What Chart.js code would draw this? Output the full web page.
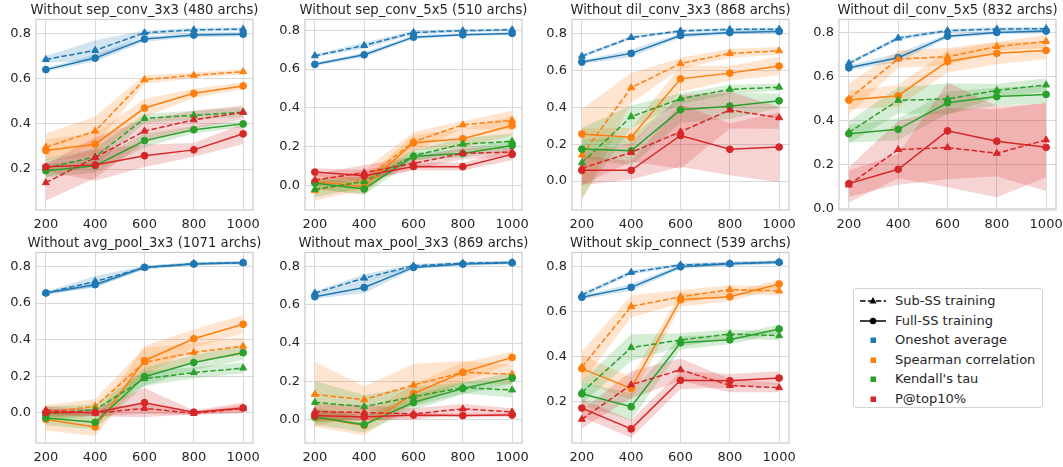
<!DOCTYPE html>
<html>
<head>
<meta charset="utf-8">
<script src="https://cdn.jsdelivr.net/npm/chart.js@4.4.1/dist/chart.umd.min.js"></script>
<style>
  html, body { margin: 0; padding: 0; background: #ffffff; }
  body { width: 1063px; height: 467px; position: relative; overflow: hidden; font-family: "DejaVu Sans", sans-serif; }
  canvas { position: absolute; }
  #legend { position: absolute; left: 853px; top: 288px; width: 190px; height: 120px; border: 1px solid #d4d4d4; border-radius: 3px; box-sizing: border-box; background: #fff; }
  .item { position: absolute; left: 0; height: 20px; width: 190px; font-size: 13px; color: #262626; }
  .item svg { position: absolute; left: 4px; top: 0; }
  .item span { position: absolute; left: 41px; top: 2px; white-space: nowrap; }
</style>
</head>
<body>
<div id="legend"></div>
<script>
// ---------------- DATA ----------------
const steps = [200, 400, 600, 800, 1000];
const metricNames = ["Oneshot average", "Spearman correlation", "Kendall's tau", "P@top10%"];
const modeNames = ["Sub-SS training", "Full-SS training"];
const panelTitles = [
  "Without sep_conv_3x3 (480 archs)",
  "Without sep_conv_5x5 (510 archs)",
  "Without dil_conv_3x3 (868 archs)",
  "Without dil_conv_5x5 (832 archs)",
  "Without avg_pool_3x3 (1071 archs)",
  "Without max_pool_3x3 (869 archs)",
  "Without skip_connect (539 archs)"
];
const yTickSets = [
  [0.2, 0.4, 0.6, 0.8],
  [0.0, 0.2, 0.4, 0.6, 0.8],
  [0.0, 0.2, 0.4, 0.6, 0.8],
  [0.0, 0.2, 0.4, 0.6, 0.8],
  [0.0, 0.2, 0.4, 0.6, 0.8],
  [0.0, 0.2, 0.4, 0.6, 0.8],
  [0.2, 0.4, 0.6, 0.8]
];

// rows: Oneshot, Spearman, Kendall, P@top10% ; columns follow steps
const sepConv3Sub = [
  [0.685, 0.725, 0.803, 0.816, 0.819],
  [0.297, 0.368, 0.596, 0.615, 0.631],
  [0.205, 0.254, 0.424, 0.438, 0.452],
  [0.140, 0.251, 0.368, 0.418, 0.451]];
const sepConv3SubBand = [
  [0.015, 0.045, 0.010, 0.008, 0.008],
  [0.060, 0.065, 0.020, 0.012, 0.012],
  [0.040, 0.040, 0.020, 0.020, 0.020],
  [0.080, 0.090, 0.050, 0.040, 0.030]];
const sepConv3Full = [
  [0.640, 0.691, 0.775, 0.793, 0.797],
  [0.282, 0.310, 0.470, 0.535, 0.568],
  [0.193, 0.215, 0.326, 0.374, 0.400],
  [0.210, 0.218, 0.259, 0.285, 0.356]];
const sepConv3FullBand = [
  [0.008, 0.015, 0.012, 0.010, 0.010],
  [0.050, 0.050, 0.040, 0.020, 0.015],
  [0.030, 0.030, 0.030, 0.015, 0.015],
  [0.020, 0.070, 0.050, 0.030, 0.045]];

const sepConv5Sub = [
  [0.668, 0.721, 0.788, 0.797, 0.802],
  [-0.026, 0.029, 0.226, 0.313, 0.336],
  [-0.019, 0.021, 0.154, 0.214, 0.228],
  [0.029, 0.067, 0.115, 0.166, 0.173]];
const sepConv5SubBand = [
  [0.008, 0.015, 0.010, 0.008, 0.008],
  [0.050, 0.050, 0.050, 0.020, 0.050],
  [0.040, 0.030, 0.030, 0.030, 0.040],
  [0.030, 0.040, 0.030, 0.030, 0.020]];
const sepConv5Full = [
  [0.624, 0.673, 0.764, 0.776, 0.783],
  [0.021, -0.005, 0.221, 0.242, 0.310],
  [0.014, -0.017, 0.151, 0.166, 0.207],
  [0.070, 0.051, 0.099, 0.098, 0.161]];
const sepConv5FullBand = [
  [0.008, 0.012, 0.010, 0.008, 0.008],
  [0.040, 0.040, 0.040, 0.050, 0.050],
  [0.030, 0.030, 0.020, 0.020, 0.030],
  [0.020, 0.030, 0.020, 0.020, 0.030]];

const dilConv3Sub = [
  [0.677, 0.778, 0.814, 0.822, 0.823],
  [0.141, 0.506, 0.637, 0.692, 0.706],
  [0.099, 0.349, 0.446, 0.497, 0.509],
  [0.069, 0.155, 0.267, 0.385, 0.343]];
const dilConv3SubBand = [
  [0.010, 0.010, 0.008, 0.008, 0.008],
  [0.250, 0.080, 0.030, 0.025, 0.020],
  [0.190, 0.060, 0.030, 0.025, 0.020],
  [0.090, 0.050, 0.200, 0.100, 0.060]];
const dilConv3Full = [
  [0.645, 0.692, 0.789, 0.805, 0.811],
  [0.255, 0.237, 0.554, 0.585, 0.623],
  [0.173, 0.164, 0.386, 0.406, 0.435],
  [0.058, 0.058, 0.247, 0.172, 0.184]];
const dilConv3FullBand = [
  [0.010, 0.020, 0.012, 0.010, 0.010],
  [0.030, 0.050, 0.070, 0.040, 0.050],
  [0.050, 0.080, 0.070, 0.070, 0.040],
  [0.080, 0.050, 0.170, 0.140, 0.190]];

const dilConv5Sub = [
  [0.659, 0.774, 0.808, 0.815, 0.817],
  [0.497, 0.679, 0.689, 0.736, 0.759],
  [0.345, 0.491, 0.497, 0.536, 0.561],
  [0.106, 0.267, 0.276, 0.250, 0.311]];
const dilConv5SubBand = [
  [0.010, 0.010, 0.008, 0.008, 0.008],
  [0.070, 0.040, 0.040, 0.020, 0.030],
  [0.050, 0.060, 0.070, 0.030, 0.030],
  [0.080, 0.130, 0.180, 0.200, 0.170]];
const dilConv5Full = [
  [0.639, 0.685, 0.783, 0.800, 0.806],
  [0.492, 0.512, 0.668, 0.705, 0.718],
  [0.339, 0.359, 0.480, 0.508, 0.518],
  [0.112, 0.177, 0.352, 0.305, 0.277]];
const dilConv5FullBand = [
  [0.010, 0.020, 0.010, 0.010, 0.010],
  [0.040, 0.050, 0.050, 0.050, 0.040],
  [0.040, 0.050, 0.050, 0.040, 0.040],
  [0.060, 0.070, 0.220, 0.160, 0.200]];

const avgPoolSub = [
  [0.655, 0.718, 0.793, 0.815, 0.820],
  [0.004, 0.036, 0.276, 0.331, 0.364],
  [-0.005, 0.018, 0.187, 0.220, 0.245],
  [0.015, 0.000, 0.025, -0.002, 0.024]];
const avgPoolSubBand = [
  [0.008, 0.030, 0.010, 0.008, 0.008],
  [0.040, 0.040, 0.080, 0.050, 0.050],
  [0.040, 0.030, 0.040, 0.030, 0.030],
  [0.020, 0.020, 0.030, 0.010, 0.020]];
const avgPoolFull = [
  [0.655, 0.700, 0.795, 0.813, 0.820],
  [-0.036, -0.076, 0.285, 0.405, 0.484],
  [-0.027, -0.051, 0.198, 0.275, 0.329],
  [0.002, 0.002, 0.056, 0.004, 0.027]];
const avgPoolFullBand = [
  [0.008, 0.015, 0.010, 0.008, 0.008],
  [0.060, 0.050, 0.080, 0.050, 0.050],
  [0.040, 0.040, 0.050, 0.040, 0.040],
  [0.020, 0.020, 0.080, 0.010, 0.030]];

const maxPoolSub = [
  [0.661, 0.739, 0.803, 0.817, 0.821],
  [0.132, 0.104, 0.181, 0.247, 0.237],
  [0.090, 0.068, 0.120, 0.167, 0.155],
  [0.042, 0.037, 0.030, 0.056, 0.040]];
const maxPoolSubBand = [
  [0.010, 0.020, 0.010, 0.008, 0.008],
  [0.170, 0.070, 0.110, 0.060, 0.050],
  [0.110, 0.060, 0.050, 0.030, 0.040],
  [0.040, 0.040, 0.030, 0.025, 0.020]];
const maxPoolFull = [
  [0.642, 0.690, 0.795, 0.812, 0.819],
  [0.012, -0.031, 0.136, 0.247, 0.325],
  [0.014, -0.026, 0.090, 0.163, 0.217],
  [0.021, 0.014, 0.024, 0.021, 0.024]];
const maxPoolFullBand = [
  [0.010, 0.030, 0.010, 0.008, 0.008],
  [0.050, 0.050, 0.050, 0.050, 0.030],
  [0.040, 0.040, 0.040, 0.030, 0.030],
  [0.030, 0.020, 0.010, 0.010, 0.010]];

const skipConnSub = [
  [0.675, 0.776, 0.809, 0.815, 0.822],
  [0.353, 0.624, 0.667, 0.699, 0.693],
  [0.240, 0.440, 0.474, 0.501, 0.493],
  [0.120, 0.274, 0.341, 0.271, 0.261]];
const skipConnSubBand = [
  [0.010, 0.010, 0.008, 0.008, 0.008],
  [0.070, 0.050, 0.030, 0.020, 0.020],
  [0.050, 0.060, 0.030, 0.020, 0.020],
  [0.040, 0.060, 0.050, 0.030, 0.020]];
const skipConnFull = [
  [0.665, 0.709, 0.801, 0.815, 0.821],
  [0.346, 0.258, 0.654, 0.667, 0.724],
  [0.234, 0.176, 0.462, 0.475, 0.523],
  [0.170, 0.077, 0.294, 0.292, 0.304]];
const skipConnFullBand = [
  [0.010, 0.015, 0.010, 0.008, 0.008],
  [0.060, 0.050, 0.030, 0.020, 0.020],
  [0.050, 0.060, 0.030, 0.020, 0.020],
  [0.040, 0.040, 0.040, 0.030, 0.030]];

// ---------------- LAYOUT / STYLE ----------------
const colors = [[31, 119, 180], [255, 127, 14], [44, 160, 44], [214, 39, 40]];
const panels = [
  { sub: sepConv3Sub, subBand: sepConv3SubBand, full: sepConv3Full, fullBand: sepConv3FullBand, left: 36, top: 19.3, ymin: 0.019, ymax: 0.862 },
  { sub: sepConv5Sub, subBand: sepConv5SubBand, full: sepConv5Full, fullBand: sepConv5FullBand, left: 304.5, top: 19.3, ymin: -0.125, ymax: 0.855 },
  { sub: dilConv3Sub, subBand: dilConv3SubBand, full: dilConv3Full, fullBand: dilConv3FullBand, left: 572, top: 19.3, ymin: -0.157, ymax: 0.876 },
  { sub: dilConv5Sub, subBand: dilConv5SubBand, full: dilConv5Full, fullBand: dilConv5FullBand, left: 839, top: 19.3, ymin: -0.008, ymax: 0.859 },
  { sub: avgPoolSub, subBand: avgPoolSubBand, full: avgPoolFull, fullBand: avgPoolFullBand, left: 36, top: 252.7, ymin: -0.164, ymax: 0.876 },
  { sub: maxPoolSub, subBand: maxPoolSubBand, full: maxPoolFull, fullBand: maxPoolFullBand, left: 304.5, top: 252.7, ymin: -0.122, ymax: 0.873 },
  { sub: skipConnSub, subBand: skipConnSubBand, full: skipConnFull, fullBand: skipConnFullBand, left: 572, top: 252.7, ymin: 0.014, ymax: 0.865 }
];
const PLOT_W = 217, PLOT_H = 190.7, Y_AX = 36, TITLE_H = 19.3, X_AX = 24;
const textColor = '#262626', gridColor = '#d9d9d9', frameColor = '#cccccc';
const rgba = (c, a) => `rgba(${c[0]},${c[1]},${c[2]},${a})`;

const framePlugin = {
  id: 'frame',
  afterDatasetsDraw(chart) {
    const a = chart.chartArea, ctx = chart.ctx;
    ctx.save();
    ctx.strokeStyle = frameColor;
    ctx.lineWidth = 1.25;
    ctx.strokeRect(a.left, a.top, a.right - a.left, a.bottom - a.top);
    ctx.restore();
  }
};

panels.forEach((p, pi) => {
  const cv = document.createElement('canvas');
  const W = PLOT_W + 2 * Y_AX, H = TITLE_H + PLOT_H + X_AX;
  cv.width = W; cv.height = H;
  cv.style.left = (p.left - Y_AX) + 'px';
  cv.style.top = (p.top - TITLE_H) + 'px';
  cv.style.width = W + 'px'; cv.style.height = H + 'px';
  document.body.appendChild(cv);

  const datasets = [];
  // lines (drawn on top, red on top of others)
  for (let m = 0; m < 4; m++) {
    [['sub', p.sub, 'triangle', [5.5, 2.4]], ['full', p.full, 'circle', []]].forEach(([key, arr, shape, dash], k) => {
      datasets.push({
        label: metricNames[m] + ' ' + modeNames[k],
        data: steps.map((s, i) => ({ x: s, y: arr[m][i] })),
        borderColor: rgba(colors[m], 1),
        backgroundColor: rgba(colors[m], 1),
        pointBackgroundColor: rgba(colors[m], 1),
        pointBorderColor: rgba(colors[m], 1),
        pointStyle: shape,
        pointRadius: shape === 'triangle' ? 4 : 3.4,
        pointBorderWidth: 1,
        borderWidth: 1.5,
        borderDash: dash,
        tension: 0,
        fill: false,
        order: (3 - m) * 2 + (k === 0 ? 1 : 0)
      });
    });
  }
  // bands
  for (let m = 0; m < 4; m++) {
    [[p.sub, p.subBand], [p.full, p.fullBand]].forEach(([arr, band], k) => {
      datasets.push({
        label: 'band-hi',
        data: steps.map((s, i) => ({ x: s, y: arr[m][i] + band[m][i] })),
        borderWidth: 0, pointRadius: 0, borderColor: 'rgba(0,0,0,0)',
        backgroundColor: rgba(colors[m], 0.2),
        fill: '+1', tension: 0,
        order: 100 + (3 - m) * 2 + (k === 0 ? 1 : 0)
      });
      datasets.push({
        label: 'band-lo',
        data: steps.map((s, i) => ({ x: s, y: arr[m][i] - band[m][i] })),
        borderWidth: 0, pointRadius: 0, borderColor: 'rgba(0,0,0,0)',
        backgroundColor: 'rgba(0,0,0,0)',
        fill: false, tension: 0,
        order: 100 + (3 - m) * 2 + (k === 0 ? 1 : 0)
      });
    });
  }

  new Chart(cv, {
    type: 'line',
    data: { datasets },
    options: {
      responsive: false,
      animation: false,
      devicePixelRatio: 1,
      layout: { padding: 0 },
      plugins: {
        legend: { display: false },
        tooltip: { enabled: false },
        title: {
          display: true, text: panelTitles[pi], color: textColor,
          font: { family: 'DejaVu Sans', size: 13.2, weight: 'normal' },
          padding: { top: 2.4, bottom: 1.2 }
        }
      },
      scales: {
        x: {
          type: 'linear', min: 160, max: 1040,
          afterBuildTicks: (s) => { s.ticks = steps.map(v => ({ value: v })); },
          ticks: { color: textColor, font: { family: 'DejaVu Sans', size: 13 }, padding: 7, maxRotation: 0, autoSkip: false, callback: v => String(v) },
          grid: { color: gridColor, lineWidth: 1, drawTicks: false },
          border: { display: false },
          afterFit: (s) => { s.height = X_AX; }
        },
        y: {
          type: 'linear', min: p.ymin, max: p.ymax,
          afterBuildTicks: (s) => { s.ticks = yTickSets[pi].map(v => ({ value: v })); },
          ticks: { color: textColor, font: { family: 'DejaVu Sans', size: 13 }, padding: 5, callback: v => Number(v).toFixed(1) },
          grid: { color: gridColor, lineWidth: 1, drawTicks: false },
          border: { display: false },
          afterFit: (s) => { s.width = Y_AX; }
        },
        yr: {
          type: 'linear', position: 'right', display: true,
          ticks: { display: false }, grid: { display: false }, border: { display: false },
          afterFit: (s) => { s.width = Y_AX; }
        }
      }
    },
    plugins: [framePlugin]
  });
});

// ---------------- LEGEND ----------------
const legend = document.getElementById('legend');
function addItem(top, svg, text) {
  const d = document.createElement('div');
  d.className = 'item';
  d.style.top = top + 'px';
  d.innerHTML = svg + '<span>' + text + '</span>';
  legend.appendChild(d);
}
const ink = '#000';
addItem(2, `<svg width="30" height="20"><line x1="2" y1="10" x2="28" y2="10" stroke="${ink}" stroke-width="1.5" stroke-dasharray="5.5 2.4"/><polygon points="15,6 18.5,12.5 11.5,12.5" fill="${ink}"/></svg>`, modeNames[0]);
addItem(21.5, `<svg width="30" height="20"><line x1="2" y1="10" x2="28" y2="10" stroke="${ink}" stroke-width="1.5"/><circle cx="15" cy="10" r="3.2" fill="${ink}"/></svg>`, modeNames[1]);
metricNames.forEach((n, i) => {
  addItem(41 + i * 19.5, `<svg width="30" height="20"><rect x="12.5" y="7.5" width="5.5" height="5.5" fill="${rgba(colors[i], 1)}"/></svg>`, n);
});
</script>
</body>
</html>
